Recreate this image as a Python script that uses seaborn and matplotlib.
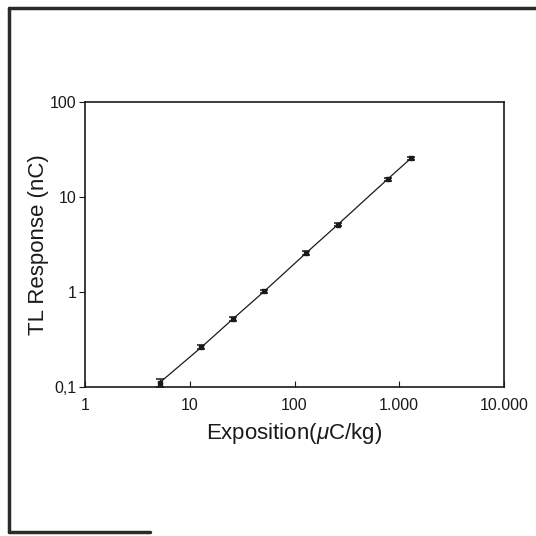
import matplotlib
matplotlib.use("Agg")
import matplotlib.pyplot as plt
import seaborn as sns
import pandas as pd
from matplotlib.lines import Line2D

# ---- data ----
exposition = [5.16, 12.9, 25.8, 51.6, 129, 258, 774, 1290]      # µC/kg
tl_response = [0.111, 0.262, 0.52, 1.02, 2.57, 5.1, 15.4, 25.5]  # nC
tl_error = [0.010, 0.012, 0.025, 0.04, 0.10, 0.2, 0.6, 1.0]

x_ticks = [1, 10, 100, 1000, 10000]
x_tick_labels = ["1", "10", "100", "1.000", "10.000"]
y_ticks = [0.1, 1, 10, 100]
y_tick_labels = ["0,1", "1", "10", "100"]

df = pd.DataFrame({"x": exposition, "y": tl_response, "err": tl_error})

sns.set_style("ticks")
plt.rcParams["font.family"] = ["Liberation Sans", "DejaVu Sans"]
plt.rcParams["mathtext.fontset"] = "custom"
plt.rcParams["mathtext.it"] = "Liberation Sans:italic"
plt.rcParams["mathtext.rm"] = "Liberation Sans"

fig = plt.figure(figsize=(5.36, 5.36), dpi=100)
fig.patch.set_facecolor("white")
ax = fig.add_axes([85 / 536, 1 - 387 / 536, 419 / 536, 285 / 536])

ink = "#1a1a1a"
sns.lineplot(data=df, x="x", y="y", ax=ax, color=ink, linewidth=0.9)
ax.errorbar(df["x"], df["y"], yerr=df["err"], fmt="s", ms=2.5, color=ink,
            ecolor=ink, elinewidth=0.9, capsize=2.8, capthick=1.1)

ax.set_xscale("log")
ax.set_yscale("log")
ax.set_xlim(1, 10000)
ax.set_ylim(0.1, 100)
ax.set_xticks(x_ticks)
ax.set_xticklabels(x_tick_labels)
ax.set_yticks(y_ticks)
ax.set_yticklabels(y_tick_labels)
ax.minorticks_off()
ax.tick_params(axis="x", direction="in", length=4, width=0.8, labelsize=11.5,
               pad=8, colors=ink)
ax.tick_params(axis="y", direction="out", length=4, width=0.8, labelsize=11.5,
               pad=2, colors=ink)
for s in ax.spines.values():
    s.set_linewidth(1.2)
    s.set_color(ink)

ax.set_xlabel(r"Exposition($\mathit{\mu}$C/kg)", fontsize=16, color=ink, labelpad=6)
ax.set_ylabel("TL Response (nC)", fontsize=16, color=ink, labelpad=1)

# page frame of the scanned figure
W = 536
frame_kw = dict(color="#2a2a2a", linewidth=2.5, transform=fig.transFigure)
fig.add_artist(Line2D([9 / W, 1.0], [1 - 8 / W, 1 - 8 / W], **frame_kw))
fig.add_artist(Line2D([9 / W, 9 / W], [1 - 8 / W, 1 - 532 / W], **frame_kw))
fig.add_artist(Line2D([9 / W, 150 / W], [1 - 532 / W, 1 - 532 / W], **frame_kw))

fig.savefig("out.png", dpi=100, facecolor="white")
